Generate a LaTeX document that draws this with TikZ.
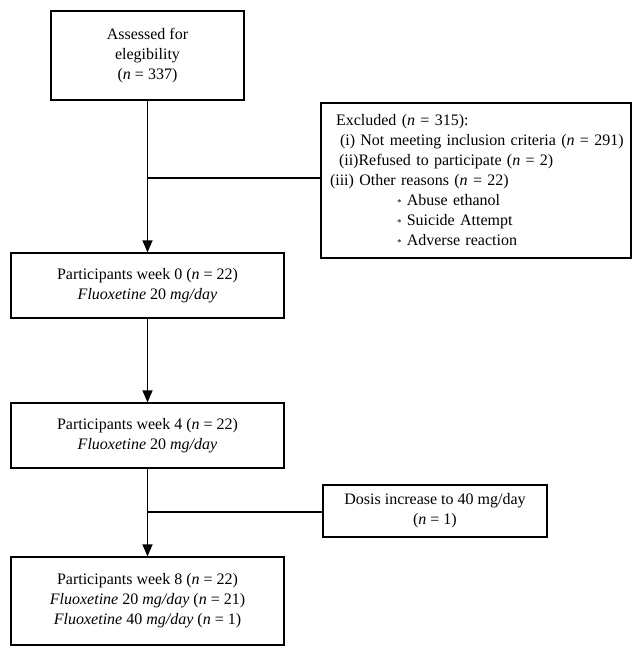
\documentclass[tikz,border=0pt]{standalone}
\usepackage{fontspec}
\setmainfont{Liberation Serif}
\usetikzlibrary{arrows.meta}
\begin{document}
\begin{tikzpicture}[x=1pt,y=-1pt,
  box/.style={draw, line width=1.2pt, inner sep=0pt, font=\fontsize{16}{20}\selectfont, align=center},
  arr/.style={line width=1.2pt, -{Triangle[length=12pt,width=10pt]}},
  ln/.style={line width=1.2pt}]
\useasboundingbox (0,0) rectangle (641,656);
\node[box, minimum width=193pt, minimum height=89pt] (a) at (147.5,55.5)
  {Assessed for\\elegibility\\(\textit{n} = 337)};
\node[box, minimum width=310pt, minimum height=155pt, text width=300pt, align=left] (excl) at (476,180.5)
  {\hspace*{10pt}Excluded (\textit{n} = 315):\\
   \hspace*{14pt}(i) Not meeting inclusion criteria (\textit{n} = 291)\\
   \hspace*{13pt}(ii)Refused to participate (\textit{n} = 2)\\
   \hspace*{4pt}(iii) Other reasons (\textit{n} = 22)\\
   \hspace*{71pt}{\small *} Abuse ethanol\\
   \hspace*{71pt}{\small *} Suicide Attempt\\
   \hspace*{71pt}{\small *} Adverse reaction};
\node[box, minimum width=273pt, minimum height=65pt] (b) at (147.5,285.5)
  {Participants week 0 (\textit{n} = 22)\\\textit{Fluoxetine} 20 \textit{mg/day}};
\node[box, minimum width=273pt, minimum height=65pt] (c) at (147.5,435.5)
  {Participants week 4 (\textit{n} = 22)\\\textit{Fluoxetine} 20 \textit{mg/day}};
\node[box, minimum width=224pt, minimum height=52pt] (dose) at (435,511)
  {Dosis increase to 40 mg/day\\(\textit{n} = 1)};
\node[box, minimum width=273pt, minimum height=88pt] (d) at (147.5,601)
  {Participants week 8 (\textit{n} = 22)\\\textit{Fluoxetine} 20 \textit{mg/day} (\textit{n} = 21)\\\textit{Fluoxetine} 40 \textit{mg/day} (\textit{n} = 1)};
\coordinate (j1) at (147.5,178);
\coordinate (j2) at (147.5,512);
\draw[arr] (a.south) -- (b.north);
\draw[ln] (j1) -- (j1 -| excl.west);
\draw[arr] (b.south) -- (c.north);
\draw[arr] (c.south) -- (d.north);
\draw[ln] (j2) -- (j2 -| dose.west);
\end{tikzpicture}
\end{document}
